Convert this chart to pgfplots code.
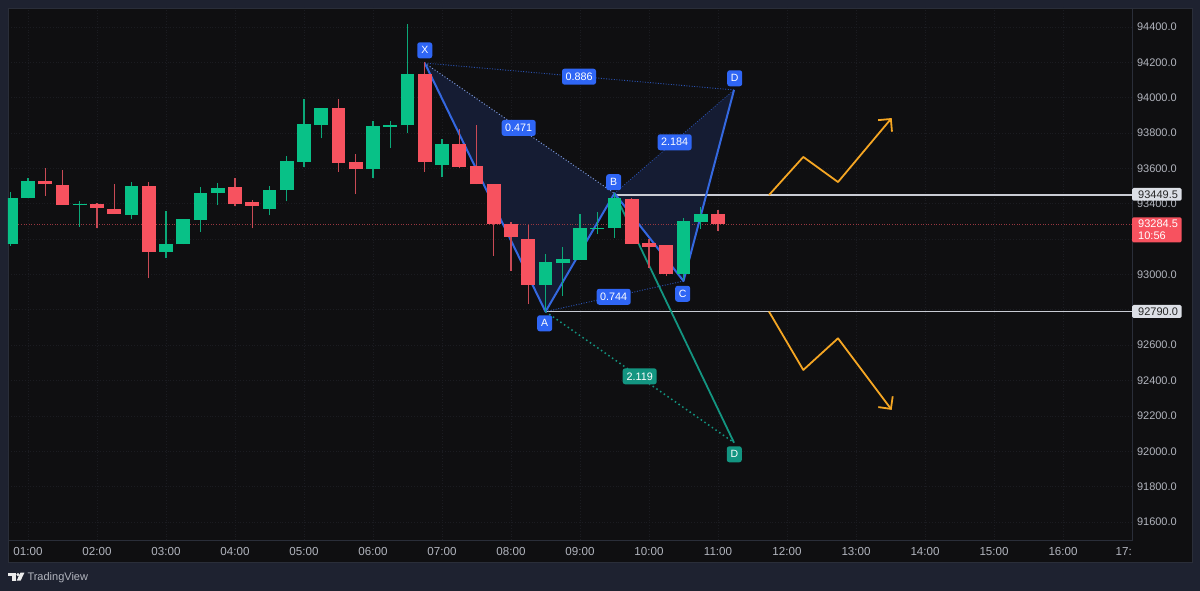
\documentclass[border=0pt]{standalone}
\usepackage{fontspec}
\setmainfont{Liberation Sans}
\usepackage{pgfplots}
\usepackage{pgfplotstable}
\pgfplotsset{compat=1.18}
\usetikzlibrary{arrows.meta}
\definecolor{outer}{HTML}{1E2230}
\definecolor{panel}{HTML}{0F0F11}
\definecolor{frame}{HTML}{2A2E39}
\definecolor{gridc}{HTML}{1B1C21}
\definecolor{up}{HTML}{08C187}
\definecolor{upw}{HTML}{0BA878}
\definecolor{dn}{HTML}{F7525F}
\definecolor{dnw}{HTML}{C94A55}
\definecolor{blue}{HTML}{3468E0}
\definecolor{lab}{HTML}{2F66F5}
\definecolor{navy}{HTML}{151C33}
\definecolor{teal}{HTML}{139581}
\definecolor{orng}{HTML}{F5A623}
\definecolor{hline}{HTML}{C9CCD4}
\definecolor{tick}{HTML}{B2B5BE}
\definecolor{pbox}{HTML}{DCDFE6}
\pgfplotstableread{
t low high blo bhi
0.75 93161 93465 93171 93431
1.00 93431 93544 93431 93531
1.75 93270 93416 93395 93399
2.50 93312 93525 93337 93501
3.00 93092 93361 93129 93174
3.25 93171 93312 93171 93312
3.50 93240 93495 93308 93463
3.75 93393 93519 93463 93491
4.50 93335 93501 93372 93476
4.75 93414 93672 93478 93640
5.00 93610 93991 93638 93851
5.25 93770 93940 93847 93940
6.00 93548 93870 93597 93838
6.25 93716 93867 93833 93847
6.50 93799 94417 93844 94132
7.00 93550 93765 93619 93737
8.50 92790 93114 92941 93069
8.75 92878 93155 93065 93088
9.00 93082 93341 93082 93265
9.25 93229 93352 93261 93265
9.50 93208 93459 93263 93431
10.50 92969 93318 93005 93304
10.75 93256 93383 93295 93342
}\upcandles
\pgfplotstableread{
t low high blo bhi
1.25 93444 93604 93510 93531
1.50 93395 93591 93395 93505
2.00 93261 93406 93376 93399
2.25 93341 93512 93341 93371
2.75 92979 93522 93126 93501
4.00 93386 93546 93400 93495
4.25 93261 93420 93389 93412
5.50 93581 93991 93632 93940
5.75 93455 93680 93595 93636
6.75 93581 94204 93638 94136
7.25 93604 93821 93610 93737
7.50 93510 93844 93510 93614
7.75 93106 93514 93286 93514
8.00 93021 93299 93212 93287
8.25 92833 93278 92941 93201
9.75 93174 93434 93174 93425
10.00 93038 93199 93154 93178
10.25 92993 93169 93005 93169
11.00 93248 93365 93286 93342
}\dncandles
\tikzset{
 lbl/.style={fill=lab,text=white,rounded corners=2.5pt,inner sep=0pt,minimum width=34pt,minimum height=16pt,font=\fontsize{10.8}{12}\selectfont},
 let/.style={fill=lab,text=white,rounded corners=2.5pt,inner sep=0pt,minimum width=15pt,minimum height=16pt,font=\fontsize{10.5}{12}\selectfont},
}
% one wick and one body per row of a candle table
\newcommand\drawcandles[3]{%
 \pgfplotstablegetrowsof{#1}%
 \pgfmathtruncatemacro\lastrow{\pgfplotsretval-1}%
 \pgfplotsforeachungrouped \r in {0,...,\lastrow}{%
  \pgfplotstablegetelem{\r}{t}\of{#1}\let\vt\pgfplotsretval
  \pgfplotstablegetelem{\r}{low}\of{#1}\let\vl\pgfplotsretval
  \pgfplotstablegetelem{\r}{high}\of{#1}\let\vh\pgfplotsretval
  \pgfplotstablegetelem{\r}{blo}\of{#1}\let\vbl\pgfplotsretval
  \pgfplotstablegetelem{\r}{bhi}\of{#1}\let\vbh\pgfplotsretval
  \edef\tmp{\noexpand\addplot[forget plot,draw=#2,line width=1.1pt] coordinates {(\vt,\vl)(\vt,\vh)};
   \noexpand\addplot[forget plot,draw=#3,line width=13.7pt] coordinates {(\vt,\vbl)(\vt,\vbh)};}%
  \tmp
 }%
}
\begin{document}
\begin{tikzpicture}[x=1pt,y=1pt]
\fill[outer] (0,0) rectangle (1200,591);
\fill[panel] (8,29) rectangle (1192,583);
\draw[frame,line width=0.8pt] (8,29) rectangle (1192,583);
\begin{axis}[
 at={(8pt,51pt)},anchor=south west,
 scale only axis,width=1124.5pt,height=532pt,
 xmin=0.7101,xmax=17.007,ymin=91498.2,ymax=94507.5,
 axis background/.style={fill=panel},
 axis line style={draw=frame,line width=0.8pt},
 xtick={1,...,16},
 xticklabels={01:00,02:00,03:00,04:00,05:00,06:00,07:00,08:00,09:00,10:00,11:00,12:00,13:00,14:00,15:00,16:00},
 ytick={91600,91800,...,94400},
 yticklabels={91600.0,91800.0,92000.0,92200.0,92400.0,92600.0,,93000.0,,93400.0,93600.0,93800.0,94000.0,94200.0,94400.0},
 scaled y ticks=false,
 yticklabel pos=right,
 major tick length=0pt,
 tick style={draw=none},
 grid=major,
 grid style={draw=gridc,line width=0.8pt,dotted},
 every x tick label/.append style={anchor=base,yshift=-16pt,text=tick,font=\fontsize{11.6}{13}\selectfont},
 every y tick label/.append style={anchor=west,xshift=1pt,text=tick,font=\fontsize{11}{13}\selectfont},
]
% pattern fills
\addplot[fill=navy,draw=none,forget plot] coordinates {(6.75,94196)(8.5,92790)(9.5,93459)} -- cycle;
\addplot[fill=navy,draw=none,forget plot] coordinates {(9.5,93459)(10.5,92963)(11.232,94044)} -- cycle;
% current price
\addplot[draw=dnw!75!black,line width=0.9pt,dash pattern=on 1pt off 1.6pt,forget plot] coordinates {(0.7101,93284.5)(17.007,93284.5)};
% level lines
\addplot[draw=hline,line width=1.3pt,forget plot] coordinates {(9.5,93449.5)(17.007,93449.5)};
\addplot[draw=hline,line width=1.3pt,forget plot] coordinates {(8.5,92790)(17.007,92790)};
% dotted pattern legs
\addplot[draw=blue!80!black,line width=0.9pt,dash pattern=on 1pt off 1.6pt,forget plot] coordinates {(6.75,94196)(11.232,94044)};
\addplot[draw=blue!60!white,line width=0.9pt,dash pattern=on 1pt off 2pt,forget plot] coordinates {(6.75,94196)(9.5,93459)};
\addplot[draw=blue!80!black,line width=0.9pt,dash pattern=on 1pt off 1.6pt,forget plot] coordinates {(8.5,92790)(10.5,92963)};
\addplot[draw=blue!80!black,line width=0.7pt,dash pattern=on 1pt off 1.6pt,forget plot] coordinates {(9.5,93459)(11.232,94044)};
\addplot[draw=teal,line width=1.5pt,dash pattern=on 1.5pt off 3pt,forget plot] coordinates {(8.5,92790)(11.232,92049)};
% solid legs
\addplot[draw=teal,line width=1.8pt,forget plot] coordinates {(9.5,93459)(11.232,92049)};
\addplot[draw=blue,line width=2pt,forget plot,line join=round] coordinates {(6.75,94196)(8.5,92790)(9.5,93459)(10.5,92963)(11.232,94044)};
% orange arrows
\addplot[draw=orng,line width=1.8pt,forget plot,line join=round,-{Straight Barb[length=9pt,width=18pt]}] coordinates {(11.739,93449.5)(12.236,93665)(12.739,93523)(13.517,93885)};
\addplot[draw=orng,line width=1.8pt,forget plot,line join=round,-{Straight Barb[length=9pt,width=18pt]}] coordinates {(11.739,92790)(12.236,92460)(12.739,92639)(13.517,92234)};
% candles
\drawcandles{\upcandles}{upw}{up}
\drawcandles{\dncandles}{dnw}{dn}
% pattern labels
\node[let] at (axis cs:6.75,94268) {X};
\node[let] at (axis cs:11.242,94110) {D};
\node[let] at (axis cs:9.488,93522) {B};
\node[let] at (axis cs:8.488,92724) {A};
\node[let] at (axis cs:10.488,92891) {C};
\node[let,fill=teal] at (axis cs:11.236,91983) {D};
\node[lbl] at (axis cs:8.986,94119) {0.886};
\node[lbl] at (axis cs:10.372,93748) {2.184};
\node[lbl] at (axis cs:8.112,93829) {0.471};
\node[lbl] at (axis cs:9.488,92874) {0.744};
\node[lbl,fill=teal] at (axis cs:9.865,92424) {2.119};
\end{axis}
% 17: partial label
\node[anchor=base east,text=tick,font=\fontsize{11.6}{13}\selectfont,inner sep=0pt] at (1132,35) {17:};
% price scale tags
\fill[pbox,rounded corners=1.5pt] (1132,390.3) rectangle (1181.7,403);
\node[anchor=base west,inner sep=0pt,text=black!85,font=\fontsize{11}{13}\selectfont] at (1138,392.8) {93449.5};
\fill[pbox,rounded corners=1.5pt] (1132,273) rectangle (1181.7,286);
\node[anchor=base west,inner sep=0pt,text=black!85,font=\fontsize{11}{13}\selectfont] at (1138,275.5) {92790.0};
\fill[dn,rounded corners=1.5pt] (1132,348.7) rectangle (1181.7,373.7);
\node[anchor=base west,inner sep=0pt,text=white,font=\fontsize{11}{13}\selectfont] at (1138,363) {93284.5};
\node[anchor=base west,inner sep=0pt,text=white,font=\fontsize{11}{13}\selectfont] at (1138,351.5) {10:56};
% TradingView mark
\fill[white!92!black] (8,18.3) rectangle (15.5,14.8);
\fill[white!92!black] (11.6,18.3) rectangle (15.5,10.3);
\fill[white!92!black] (18,16.4) circle (1.7);
\fill[white!92!black] (20.4,18.3) -- (24.4,18.3) -- (20.6,10.3) -- (16.6,10.3) -- cycle;
\node[anchor=base west,inner sep=0pt,text=tick,font=\fontsize{11}{13}\selectfont] at (27.3,10.8) {TradingView};
\end{tikzpicture}
\end{document}
